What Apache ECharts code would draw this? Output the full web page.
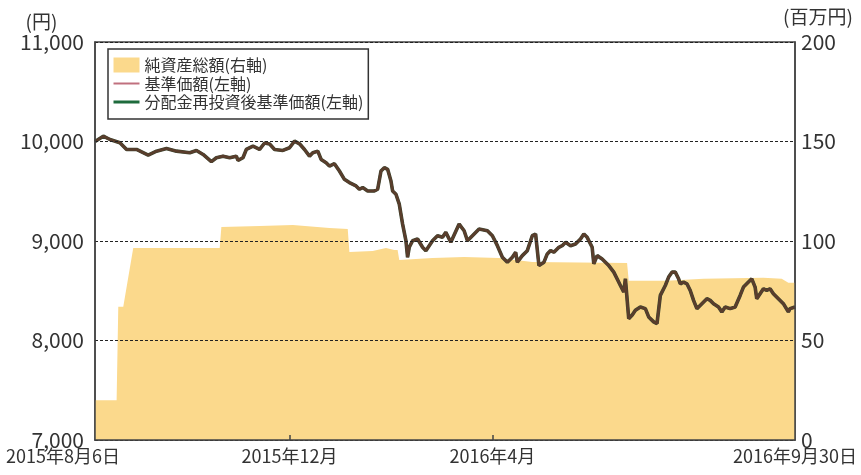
<!DOCTYPE html>
<html><head><meta charset="utf-8">
<script src="https://cdn.jsdelivr.net/npm/echarts@6/dist/echarts.min.js"></script>
<style>html,body{margin:0;padding:0;background:#fff}#c{width:861px;height:475px}</style>
</head><body><div id="c"></div>
<script>
const priceDates = ['2015-08-06','2015-08-11','2015-08-15','2015-08-21','2015-08-25','2015-08-31','2015-09-07','2015-09-12','2015-09-18','2015-09-24','2015-10-02','2015-10-06','2015-10-10','2015-10-15','2015-10-18','2015-10-22','2015-10-26','2015-10-30','2015-10-31','2015-11-03','2015-11-05','2015-11-09','2015-11-13','2015-11-16','2015-11-19','2015-11-22','2015-11-27','2015-12-01','2015-12-04','2015-12-07','2015-12-10','2015-12-13','2015-12-15','2015-12-18','2015-12-20','2015-12-23','2015-12-25','2015-12-28','2015-12-31','2016-01-03','2016-01-06','2016-01-10','2016-01-12','2016-01-14','2016-01-17','2016-01-21','2016-01-23','2016-01-25','2016-01-27','2016-01-29','2016-01-31','2016-02-01','2016-02-03','2016-02-05','2016-02-07','2016-02-09','2016-02-10','2016-02-11','2016-02-13','2016-02-16','2016-02-19','2016-02-21','2016-02-23','2016-02-25','2016-02-28','2016-03-02','2016-03-04','2016-03-07','2016-03-12','2016-03-15','2016-03-17','2016-03-20','2016-03-24','2016-03-29','2016-04-01','2016-04-04','2016-04-07','2016-04-10','2016-04-13','2016-04-15','2016-04-16','2016-04-19','2016-04-22','2016-04-25','2016-04-27','2016-04-29','2016-05-02','2016-05-04','2016-05-06','2016-05-08','2016-05-11','2016-05-13','2016-05-15','2016-05-18','2016-05-21','2016-05-24','2016-05-26','2016-05-28','2016-05-31','2016-06-01','2016-06-03','2016-06-06','2016-06-10','2016-06-13','2016-06-15','2016-06-17','2016-06-19','2016-06-20','2016-06-21','2016-06-22','2016-06-24','2016-06-26','2016-06-29','2016-07-02','2016-07-04','2016-07-07','2016-07-09','2016-07-11','2016-07-14','2016-07-16','2016-07-18','2016-07-20','2016-07-22','2016-07-23','2016-07-25','2016-07-27','2016-07-29','2016-07-31','2016-08-02','2016-08-05','2016-08-08','2016-08-10','2016-08-12','2016-08-15','2016-08-17','2016-08-19','2016-08-22','2016-08-25','2016-08-28','2016-08-30','2016-09-02','2016-09-04','2016-09-06','2016-09-07','2016-09-09','2016-09-11','2016-09-13','2016-09-15','2016-09-17','2016-09-20','2016-09-23','2016-09-26','2016-09-27','2016-09-30'];
const priceValues = [10000,10053,10020,9987,9920,9920,9863,9903,9930,9903,9887,9910,9870,9797,9837,9853,9837,9853,9810,9837,9920,9953,9920,9985,9975,9920,9910,9937,10003,9977,9920,9853,9887,9903,9820,9787,9753,9777,9703,9620,9587,9553,9520,9537,9503,9503,9520,9703,9737,9720,9603,9503,9470,9370,9170,9003,8837,8937,9003,9020,8937,8903,8953,9003,9053,9037,9087,8987,9170,9103,9003,9053,9120,9103,9053,8953,8837,8787,8837,8887,8787,8853,8903,9053,9070,8753,8787,8870,8903,8887,8937,8953,8987,8953,8970,9020,9070,9037,8937,8770,8853,8820,8753,8687,8620,8553,8487,8620,8637,8220,8253,8303,8337,8320,8237,8187,8170,8453,8553,8637,8687,8687,8620,8570,8587,8570,8503,8403,8320,8370,8420,8403,8370,8337,8287,8337,8320,8337,8453,8537,8587,8620,8537,8420,8470,8520,8503,8520,8470,8420,8370,8287,8320,8337];
// 分配金なしのため分配金再投資後基準価額は基準価額と同値
const reinvestValues = priceValues.slice();
const assetDates = ['2015-08-06','2015-08-19','2015-08-20','2015-08-23','2015-08-29','2015-10-20','2015-10-21','2015-11-13','2015-12-03','2015-12-25','2016-01-05','2016-01-06','2016-01-20','2016-01-28','2016-02-02','2016-02-04','2016-02-05','2016-02-25','2016-03-15','2016-04-05','2016-04-25','2016-06-21','2016-06-22','2016-07-15','2016-08-06','2016-09-11','2016-09-22','2016-09-26','2016-09-30'];
const assetValues = [20,20,67,67,96.5,96.5,107,107.5,108,106.5,106,94.5,95,96.5,95.5,95.5,90.5,91.5,92,91.5,89.5,89,80,80,81,81.5,81,79,79];
const xTickDates = ['2015-08-06','2015-12-01','2016-04-01','2016-09-30'];
const xTickLabels = ['2015年8月6日','2015年12月','2016年4月','2016年9月30日'];
const seriesNames = ['純資産総額(右軸)','基準価額(左軸)','分配金再投資後基準価額(左軸)'];

const FONT = '"Noto Sans CJK JP", sans-serif';
const ts = d => +echarts.number.parseDate(d);
const xTickTs = xTickDates.map(ts);
const pair = (ds, vs) => ds.map((d, i) => [ts(d), vs[i]]);
const noSymbol = {color: 'rgba(0,0,0,0)', opacity: 0, borderWidth: 0};

const chart = echarts.init(document.getElementById('c'), null, {renderer: 'canvas'});
chart.setOption({
  animation: false,
  backgroundColor: '#fff',
  textStyle: {fontFamily: FONT},
  grid: {left: 95, right: 66, top: 42, bottom: 35, show: true, borderColor: '#444', borderWidth: 1.5, backgroundColor: 'transparent'},
  legend: {
    orient: 'vertical', left: 108, top: 49,
    data: [
      {name: seriesNames[0], icon: 'rect', itemStyle: {color: '#fbd98c'}},
      {name: seriesNames[1], lineStyle: {color: '#c0707e', width: 2}, itemStyle: noSymbol},
      {name: seriesNames[2], lineStyle: {color: '#1e6b3c', width: 3}, itemStyle: noSymbol}
    ],
    itemWidth: 26, itemHeight: 15, itemGap: 2.5,
    borderColor: '#333', borderWidth: 1.5, padding: [8, 5, 9, 4],
    backgroundColor: '#fff',
    textStyle: {fontSize: 16, lineHeight: 15, color: '#333', fontFamily: FONT},
    selectedMode: false
  },
  xAxis: {
    type: 'value', min: xTickTs[0], max: xTickTs[3], z: 10,
    axisLine: {show: true, lineStyle: {color: '#444', width: 1.5}},
    axisTick: {show: true, inside: true, length: 5, customValues: [xTickTs[1], xTickTs[2]], lineStyle: {color: '#444', width: 1.5}},
    splitLine: {show: false},
    axisLabel: {
      customValues: xTickTs, margin: 7, color: '#333', fontSize: 18, fontFamily: FONT,
      formatter: v => {
        const i = xTickTs.indexOf(v);
        const t = i >= 0 ? xTickLabels[i] : '';
        return i === 0 ? '{first|' + t + '}' : t;
      },
      rich: {first: {fontSize: 18, color: '#333', fontFamily: FONT, padding: [0, 64, 0, 0]}}
    }
  },
  yAxis: [
    {
      type: 'value', min: 7000, max: 11000, interval: 1000, position: 'left', z: 10,
      name: '(円)', nameLocation: 'end', nameGap: 9,
      nameTextStyle: {color: '#333', fontSize: 19, fontFamily: FONT, padding: [0, 107, 0, 0]},
      axisLine: {show: true, lineStyle: {color: '#444', width: 1.5}},
      axisTick: {show: false},
      axisLabel: {color: '#333', fontSize: 21, margin: 11, fontFamily: FONT, padding: [0, 0, 5, 0]},
      splitLine: {show: true, lineStyle: {color: '#222', width: 1.2, type: [3, 2]}}
    },
    {
      type: 'value', min: 0, max: 200, interval: 50, position: 'right', z: 10,
      name: '(百万円)', nameLocation: 'end', nameGap: 16,
      nameTextStyle: {color: '#333', fontSize: 19, fontFamily: FONT, padding: [0, 0, 0, 46]},
      axisLine: {show: true, lineStyle: {color: '#444', width: 1.5}},
      axisTick: {show: false},
      axisLabel: {color: '#333', fontSize: 21, margin: 6, fontFamily: FONT, padding: [0, 0, 5, 0]},
      splitLine: {show: false}
    }
  ],
  series: [
    {
      name: seriesNames[0], type: 'line', yAxisIndex: 1, z: 1,
      data: pair(assetDates, assetValues), symbol: 'none',
      itemStyle: {color: '#fbd98c'},
      lineStyle: {width: 0, color: '#fbd98c'},
      areaStyle: {color: '#fbd98c', opacity: 1}
    },
    {
      name: seriesNames[2], type: 'line', yAxisIndex: 0, z: 3,
      data: pair(priceDates, reinvestValues), symbol: 'none',
      itemStyle: {color: '#1e6b3c'},
      lineStyle: {color: '#3d4630', width: 3.6}
    },
    {
      name: seriesNames[1], type: 'line', yAxisIndex: 0, z: 4,
      data: pair(priceDates, priceValues), symbol: 'none',
      itemStyle: {color: '#c0707e'},
      lineStyle: {color: '#5a3d2c', width: 2.6}
    }
  ]
});
</script></body></html>
